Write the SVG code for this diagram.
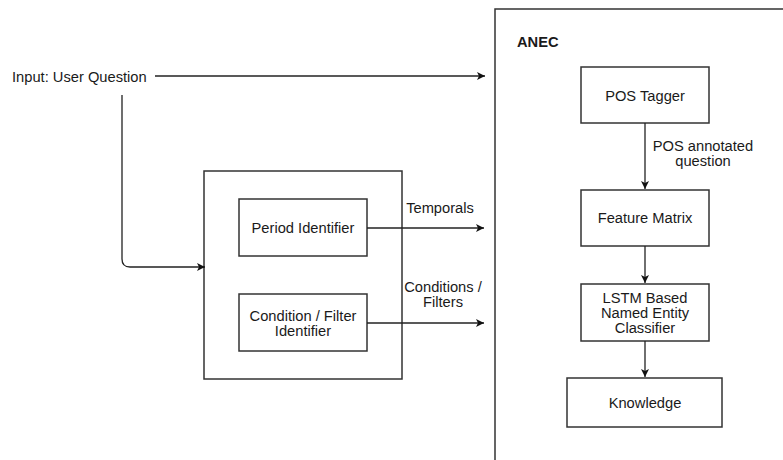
<svg xmlns="http://www.w3.org/2000/svg" width="783" height="460" viewBox="0 0 783 460">
<defs>
<style>
text{font-family:"Liberation Sans",Arial,sans-serif;font-size:14.7px;fill:#1a1a1a}
.c{text-anchor:middle}
.b{font-weight:bold}
.box{fill:#fff;stroke:#333;stroke-width:1.5}
.ln{fill:none;stroke:#222;stroke-width:1.3}
</style>
<marker id="ah" viewBox="0 0 10 10" refX="10" refY="5" markerWidth="8" markerHeight="8" markerUnits="userSpaceOnUse" orient="auto">
<path d="M0,0 L10,5 L0,10 L2.5,5 Z" fill="#111"/>
</marker>
</defs>
<rect width="783" height="460" fill="#fff"/>
<g id="anec">
<rect class="box" x="495" y="9" width="300" height="470"/>
<text class="b" x="517" y="47">ANEC</text>
</g>
<g id="input">
<text x="12" y="82">Input: User Question</text>
</g>
<g id="identifiers">
<rect class="box" x="204" y="171" width="198" height="208"/>
</g>
<g id="period">
<rect class="box" x="239" y="199" width="128" height="57"/>
<text class="c" x="303" y="233">Period Identifier</text>
</g>
<g id="condition">
<rect class="box" x="239" y="294" width="128" height="57"/>
<text class="c" x="303" y="321">Condition / Filter</text>
<text class="c" x="303" y="336">Identifier</text>
</g>
<g id="pos">
<rect class="box" x="581" y="67" width="128" height="56"/>
<text class="c" x="645" y="101">POS Tagger</text>
</g>
<g id="feature">
<rect class="box" x="581" y="190" width="128" height="56"/>
<text class="c" x="645" y="223">Feature Matrix</text>
</g>
<g id="lstm">
<rect class="box" x="581" y="284" width="128" height="57"/>
<text class="c" x="645" y="303">LSTM Based</text>
<text class="c" x="645" y="318">Named Entity</text>
<text class="c" x="645" y="333">Classifier</text>
</g>
<g id="knowledge">
<rect class="box" x="567" y="378" width="155" height="49"/>
<text class="c" x="645" y="408">Knowledge</text>
</g>
<g id="connectors">
<path class="ln" d="M155,76 H485" marker-end="url(#ah)"/>
<path class="ln" d="M122,95 V259 Q122,267 130,267 H205" marker-end="url(#ah)"/>
<path class="ln" d="M367,228 H484" marker-end="url(#ah)"/>
<text class="c" x="440" y="213">Temporals</text>
<path class="ln" d="M367,323 H484" marker-end="url(#ah)"/>
<text class="c" x="443" y="292">Conditions /</text>
<text class="c" x="443" y="307">Filters</text>
<path class="ln" d="M645,123 V189" marker-end="url(#ah)"/>
<text class="c" x="703" y="151">POS annotated</text>
<text class="c" x="703" y="166">question</text>
<path class="ln" d="M645,246 V283" marker-end="url(#ah)"/>
<path class="ln" d="M645,341 V377" marker-end="url(#ah)"/>
</g>
</svg>
